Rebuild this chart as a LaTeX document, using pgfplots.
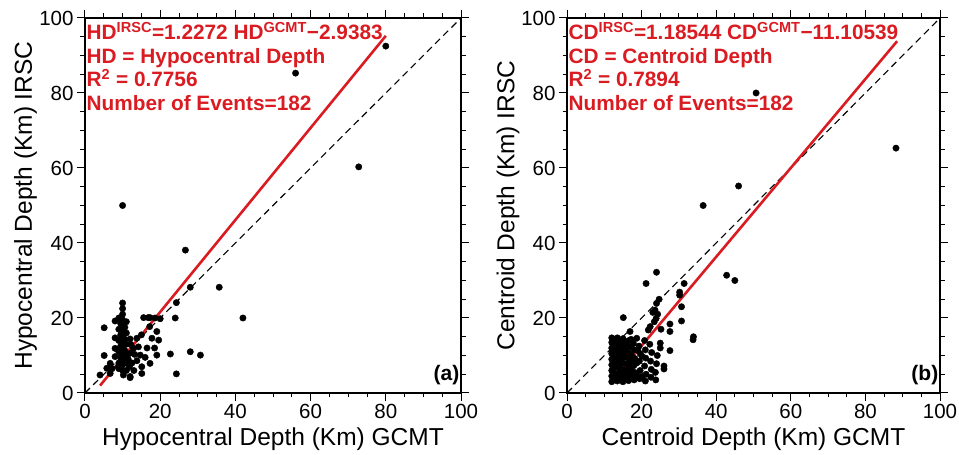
\documentclass[border=0pt]{standalone}
\usepackage{fontspec}
\setmainfont{Liberation Sans}
\usepackage{pgfplots}
\pgfplotsset{compat=1.18}
\definecolor{fitred}{RGB}{218,28,34}
\pgfplotsset{
 myax/.style={
  scale only axis, height=375pt,
  xmin=0,xmax=100,ymin=0,ymax=100,
  xtick={0,20,...,100}, ytick={0,20,...,100},
  minor x tick num=3, minor y tick num=3,
  tick align=outside,
  major tick length=8pt, minor tick length=4.5pt,
  axis line style={line width=1.6pt},
  every tick/.style={black,line width=1pt},
  tick label style={font=\fontsize{20.5}{20.5}\selectfont},
  /pgf/number format/assume math mode=true,
  label style={font=\fontsize{24.5}{24.5}\selectfont},
  xlabel style={at={(axis description cs:0.5,-0.141)},anchor=base},
  ylabel style={at={(axis description cs:-0.141,0.5)},anchor=base},
  clip=false,
 },
 pts/.style={only marks, mark=*, mark size=3.2pt, black},
 fit/.style={fitred, line width=2.6pt, no marks},
 diag/.style={black, line width=1.1pt, dash pattern=on 7pt off 4.5pt, no marks},
}
\tikzset{
 eqtext/.style={anchor=north west, align=left, text=fitred, inner sep=0pt,
   font=\bfseries\fontsize{20.8}{23.5}\selectfont},
 panel/.style={anchor=base east, inner sep=0pt, font=\bfseries\fontsize{21}{21}\selectfont},
}
\pgfplotstableread{
x y
10 50
56 85.3
80 92.5
72.8 60.3
26.7 38.1
35.7 28.2
28 28.2
24.3 24.1
42 20
24 20
28 11
30.7 10.1
22.7 10.4
24.3 5.1
12 4.1
5.1 17.4
8 19.2
8 14.7
8 11.9
5.1 10
8 9.7
5.8 6.6
4 4.8
6.7 5.2
12 4.4
10.2 4.8
14.2 12.3
13.8 14.6
15 15.5
15.6 20.1
17.3 20.1
20 19.8
19.1 16.4
19.6 14.1
19.1 10.1
17.3 7.9
15.1 7
15.1 5.2
14.7 10.1
16 9.5
13.8 8.6
12 10.6
12.9 11.9
17.2 17.7
17.8 14.6
12 14.4
6.7 7.9
8.9 7
10 24
10 22.5
10 21
10 19.5
10 18
10 16.5
10 15
10 13.5
10 12
10 10.5
10 9
10 7.5
10 6
9 20
9 17
9 14
9 11
9 8
9 6.5
11 19
11 16
11 13
11 10
11 8
11 6
11.5 9
12.5 8
13 6
16.5 12
18.5 12
9.5 18.5
9.5 15.5
9.5 12.5
9.5 9.5
10.6 17.5
10.6 14.3
10.6 11.3
10.6 8.5
11.8 7
12.2 12.9
13.2 10.3
7.2 6.5
16.8 20.1
18.6 20
}\dataA
\pgfplotstableread{
x y
36.5 50
46 55.2
50.7 80
88.2 65.3
42.8 31.4
45 30
24 32.2
21.2 29.2
31.4 29.2
30.2 26.9
30.2 26.1
24.7 25
24 23.9
23.6 22.1
23 21.5
24.3 21
30.7 23
15.1 20.1
30.7 19.2
23.9 19.9
23.4 19
27.6 18.4
22.3 17.7
21.8 16.8
25.2 17
16.9 16.4
18.7 14.6
27.6 16.4
33.9 15
33.8 14.2
25 13.3
25 12
27.6 11.3
26 7.2
26 6.4
12 3
12 4.5
12 6
12 7.5
12 9
12 10.5
12 12
12 13.5
12 14.7
13.5 3.2
13.4 5
13.6 6.8
13.5 8.3
13.3 10
13.6 11.8
13.4 13.5
13.5 14.7
15 3
15.1 4.5
14.9 6.2
15 8
15.2 9.5
15 11
14.8 12.6
15 14.5
16.5 3.3
16.6 5.2
16.4 7
16.6 9
16.5 10.7
16.3 12.5
16.6 14
18 3.5
18.1 5.5
17.9 7.3
18.2 9.2
18 11.5
17.8 13.2
19.5 3.8
19.6 6
19.4 8.5
19.6 10.5
19.3 12.5
21 3.2
21.2 5
20.8 7.2
21.1 9.3
21 11.5
20.8 14
22.5 4.2
22.6 6.3
22.4 8.5
22.7 10.8
22.2 13
23.8 3.5
24 7.8
23.7 5.5
24.2 10
12.7 3.8
12.7 5.3
12.7 6.8
12.7 8.3
12.7 9.8
12.7 11.3
12.7 12.8
12.7 14.2
14.2 3.9
14.2 5.6
14.2 7.4
14.2 9
14.2 10.6
14.2 12.2
14.2 13.8
15.8 4
15.8 5.8
15.8 7.8
15.8 10
15.8 11.8
15.8 13.5
17.2 4.3
17.2 6.3
17.3 8.2
17.2 10.2
17.1 12.3
17.2 14.3
18.8 4.6
18.7 8
20.2 4.4
20.1 9.8
19 11.4
}\dataB
\begin{document}
\begin{tikzpicture}
\path[use as bounding box] (0,0) rectangle (959pt,455pt);
\begin{axis}[myax, width=376pt, at={(85pt,62pt)}, anchor=south west,
  xlabel={Hypocentral Depth (Km) GCMT}, ylabel={Hypocentral Depth (Km) IRSC}]
\addplot[pts] table[x=x,y=y] {\dataA};
\addplot[diag] coordinates {(0,0) (100,100)};
\addplot[fit] coordinates {(4,1.97) (80,95.24)};
\node[eqtext] at (rel axis cs:0,1) [shift={(1.5pt,-4pt)}] {HD\textsuperscript{IRSC}=1.2272 HD\textsuperscript{GCMT}−2.9383\\HD = Hypocentral Depth\\R\textsuperscript{2} = 0.7756\\Number of Events=182};
\node[panel] at (rel axis cs:1,0) [shift={(-1.5pt,12pt)}] {(a)};
\end{axis}
\begin{axis}[myax, width=373pt, at={(567pt,62pt)}, anchor=south west,
  xlabel={Centroid Depth (Km) GCMT}, ylabel={Centroid Depth (Km) IRSC}]
\addplot[pts] table[x=x,y=y] {\dataB};
\addplot[diag] coordinates {(0,0) (100,100)};
\addplot[fit] coordinates {(12,3.12) (88.5,93.81)};
\node[eqtext] at (rel axis cs:0,1) [shift={(1.5pt,-4pt)}] {CD\textsuperscript{IRSC}=1.18544 CD\textsuperscript{GCMT}−11.10539\\CD = Centroid Depth\\R\textsuperscript{2} = 0.7894\\Number of Events=182};
\node[panel] at (rel axis cs:1,0) [shift={(-1.5pt,12pt)}] {(b)};
\end{axis}
\end{tikzpicture}
\end{document}
